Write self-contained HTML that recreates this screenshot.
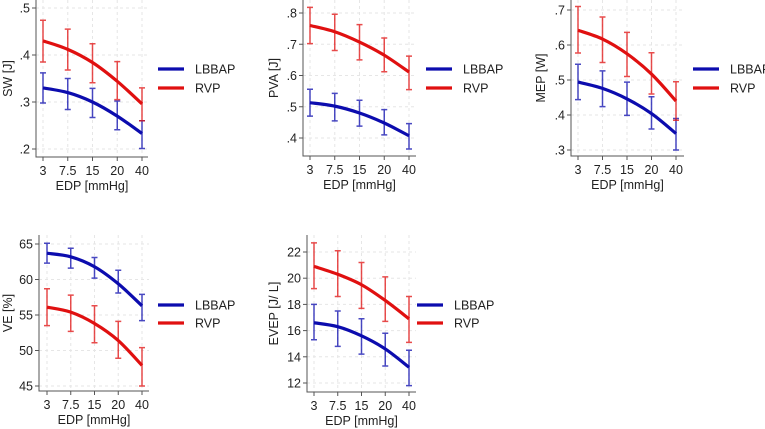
<!DOCTYPE html>
<html><head><meta charset="utf-8"><style>
body{margin:0;background:#fff;}
svg{display:block;font-family:"Liberation Sans",Arial,sans-serif;}
</style></head><body>
<svg id="c" width="765" height="429"></svg>
<script>
const categories=["3","7.5","15","20","40"];
const swTicks=[0.2,0.3,0.4,0.5], swTickLabels=[".2",".3",".4",".5"];
const swL=[0.33,0.32,0.30,0.27,0.233], swLlo=[0.298,0.284,0.267,0.241,0.201], swLhi=[0.362,0.35,0.329,0.302,0.26];
const swR=[0.43,0.412,0.384,0.344,0.296], swRlo=[0.385,0.368,0.341,0.305,0.26], swRhi=[0.474,0.455,0.424,0.386,0.33];
const pvaTicks=[0.4,0.5,0.6,0.7,0.8], pvaTickLabels=[".4",".5",".6",".7",".8"];
const pvaL=[0.513,0.502,0.48,0.448,0.407], pvaLlo=[0.47,0.455,0.438,0.41,0.365], pvaLhi=[0.556,0.543,0.521,0.491,0.446];
const pvaR=[0.76,0.74,0.707,0.665,0.611], pvaRlo=[0.702,0.68,0.65,0.612,0.555], pvaRhi=[0.818,0.796,0.763,0.72,0.662];
const mepTicks=[0.3,0.4,0.5,0.6,0.7], mepTickLabels=[".3",".4",".5",".6",".7"];
const mepL=[0.494,0.476,0.446,0.404,0.347], mepLlo=[0.444,0.424,0.399,0.36,0.30], mepLhi=[0.545,0.526,0.494,0.452,0.39];
const mepR=[0.642,0.617,0.575,0.517,0.44], mepRlo=[0.577,0.55,0.51,0.46,0.385], mepRhi=[0.71,0.68,0.636,0.578,0.495];
const veTicks=[45,50,55,60,65], veTickLabels=["45","50","55","60","65"];
const veL=[63.7,63.2,61.8,59.4,56.3], veLlo=[62.3,61.6,60.2,58.1,54.2], veLhi=[65.1,64.4,63.1,61.3,57.9];
const veR=[56.1,55.4,53.8,51.4,47.9], veRlo=[53.5,52.7,51.1,48.9,45], veRhi=[58.7,57.8,56.3,54.1,50.4];
const evTicks=[12,14,16,18,20,22], evTickLabels=["12","14","16","18","20","22"];
const evL=[16.6,16.3,15.6,14.6,13.2], evLlo=[15.3,14.8,14.2,13.3,11.8], evLhi=[18,17.5,16.9,15.8,14.5];
const evR=[20.9,20.3,19.5,18.3,16.9], evRlo=[19.2,18.6,17.7,16.7,15.1], evRhi=[22.7,22.1,21.2,20.1,18.6];

const NS="http://www.w3.org/2000/svg", svg=document.getElementById('c');
const BLUE="#0c0cae", RED="#e01010";
function mk(t,a,p){const e=document.createElementNS(NS,t);for(const k in a)e.setAttribute(k,a[k]);(p||svg).appendChild(e);return e;}
function panel(o){
  const g=mk('g',{});
  
  
  const xs=i=>o.x0+i*(o.x1-o.x0)/4;
  const ys=v=>o.ya+(v-o.va)*(o.yb-o.ya)/(o.vb-o.va);
  o.ticks.forEach((t,i)=>{
    const gl=mk('line',{x1:o.left,x2:o.right,y1:ys(t),y2:ys(t),stroke:'#e6e6e6','stroke-dasharray':'3,3'},g);
    
    
    const tk=mk('line',{x1:o.left-4,x2:o.left,y1:ys(t),y2:ys(t),stroke:'#555'},g);
    
    
    const tl=mk('text',{x:o.left-6,y:ys(t)+4.5,'text-anchor':'end','font-size':12.5,fill:'#222'},g);tl.textContent=o.labels[i];
    
    
  });
  categories.forEach((c,i)=>{
    const gl=mk('line',{x1:xs(i),x2:xs(i),y1:0+o.top,y2:o.bottom,stroke:'#e6e6e6','stroke-dasharray':'3,3'},g);
    
    
    const tk=mk('line',{x1:xs(i),x2:xs(i),y1:o.bottom,y2:o.bottom+4,stroke:'#555'},g);
    
    
    const tl=mk('text',{x:xs(i),y:o.bottom+18,'text-anchor':'middle','font-size':12.5,fill:'#222'},g);tl.textContent=c;
    
    
  });
  const ax=mk('path',{d:`M${o.left},${o.top}V${o.bottom}H${o.right}`,stroke:'#555',fill:'none'},g);
  
  
  const xt=mk('text',{x:(o.left+o.right)/2,y:o.bottom+33,'text-anchor':'middle','font-size':12.5,fill:'#222'},g);xt.textContent='EDP [mmHg]';
  
  
  const cy=(o.top+o.bottom)/2;
  const yt=mk('text',{x:o.ylx,y:cy,'text-anchor':'middle','font-size':12.5,fill:'#222',transform:`rotate(-90 ${o.ylx} ${cy})`},g);yt.textContent=o.ytitle;
  
  
  [[o.L,o.Llo,o.Lhi,BLUE,'lbbap'],[o.R,o.Rlo,o.Rhi,RED,'rvp']].forEach(([m,lo,hi,col,nm])=>{
    const eg=mk('g',{stroke:col,'stroke-opacity':0.75,'stroke-width':1.5},g);
    m.forEach((v,i)=>{
      const e=mk('path',{d:`M${xs(i)-3},${ys(lo[i])}H${xs(i)+3}M${xs(i)},${ys(lo[i])}V${ys(hi[i])}M${xs(i)-3},${ys(hi[i])}H${xs(i)+3}`,fill:'none'},eg);
      
      
    });
    const P=m.map((v,i)=>[xs(i),ys(v)]);
    let d=`M${P[0][0]},${P[0][1]}`;
    for(let i=0;i<P.length-1;i++){
      const p0=P[Math.max(i-1,0)],p1=P[i],p2=P[i+1],p3=P[Math.min(i+2,P.length-1)];
      d+=`C${p1[0]+(p2[0]-p0[0])/6},${p1[1]+(p2[1]-p0[1])/6} ${p2[0]-(p3[0]-p1[0])/6},${p2[1]-(p3[1]-p1[1])/6} ${p2[0]},${p2[1]}`;
    }
    const ln=mk('path',{d:d,stroke:col,'stroke-width':3.2,fill:'none'},g);
    
    
  });
  [['LBBAP',BLUE,o.lg1],['RVP',RED,o.lg2]].forEach(([t,col,y])=>{
    const lg=mk('g',{},g);
    
    
    mk('line',{x1:o.lgx,x2:o.lgx+26,y1:y,y2:y,stroke:col,'stroke-width':3.2},lg);
    const tx=mk('text',{x:o.lgx+37,y:y+4.5,'font-size':12.5,fill:'#222'},lg);tx.textContent=t;
  });
}
panel({name:'sw',ytitle:'SW [J]',left:36,right:148,top:0,bottom:157,x0:43,x1:142,ya:149,yb:8,va:0.2,vb:0.5,ticks:swTicks,labels:swTickLabels,ylx:12,
  L:swL,Llo:swLlo,Lhi:swLhi,R:swR,Rlo:swRlo,Rhi:swRhi,lgx:158,lg1:69,lg2:88});
panel({name:'pva',ytitle:'PVA [J]',left:303,right:416,top:0,bottom:156,x0:310,x1:409,ya:138,yb:13,va:0.4,vb:0.8,ticks:pvaTicks,labels:pvaTickLabels,ylx:278,
  L:pvaL,Llo:pvaLlo,Lhi:pvaLhi,R:pvaR,Rlo:pvaRlo,Rhi:pvaRhi,lgx:426,lg1:69,lg2:88});
panel({name:'mep',ytitle:'MEP [W]',left:571,right:684,top:0,bottom:156,x0:578,x1:676,ya:150,yb:10,va:0.3,vb:0.7,ticks:mepTicks,labels:mepTickLabels,ylx:545,
  L:mepL,Llo:mepLlo,Lhi:mepLhi,R:mepR,Rlo:mepRlo,Rhi:mepRhi,lgx:693,lg1:69,lg2:88});
panel({name:'ve',ytitle:'VE [%]',left:39,right:149,top:235,bottom:391,x0:47,x1:142,ya:386,yb:244,va:45,vb:65,ticks:veTicks,labels:veTickLabels,ylx:12,
  L:veL,Llo:veLlo,Lhi:veLhi,R:veR,Rlo:veRlo,Rhi:veRhi,lgx:158,lg1:305,lg2:323});
panel({name:'evep',ytitle:'EVEP [J/ L]',left:307,right:416,top:235,bottom:392,x0:314,x1:409,ya:383,yb:252,va:12,vb:22,ticks:evTicks,labels:evTickLabels,ylx:278,
  L:evL,Llo:evLlo,Lhi:evLhi,R:evR,Rlo:evRlo,Rhi:evRhi,lgx:417,lg1:305,lg2:323});
</script>
</body></html>
